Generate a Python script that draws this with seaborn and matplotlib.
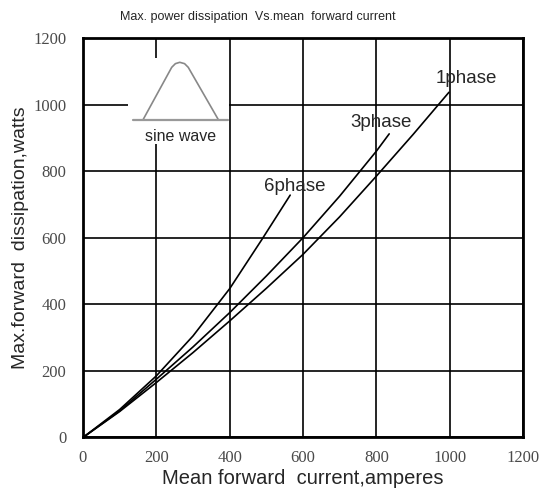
import pandas as pd
import matplotlib
matplotlib.use("Agg")
import matplotlib.pyplot as plt
import seaborn as sns
from matplotlib.patches import Rectangle

# curvas (corriente media A, potencia W)
x_1ph = [0, 100, 200, 300, 400, 500, 600, 700, 800, 900, 998]
y_1ph = [0, 78, 165, 255, 350, 448, 550, 663, 785, 910, 1037]
x_3ph = [0, 100, 200, 300, 400, 500, 600, 700, 800, 835]
y_3ph = [0, 80, 175, 272, 375, 485, 600, 725, 860, 912]
x_6ph = [0, 100, 200, 300, 400, 488, 565]
y_6ph = [0, 84, 185, 305, 447, 595, 728]

etiquetas = ["1phase", "3phase", "6phase"]
etiq_x = [1044, 812, 578]
etiq_y = [1078, 946, 754]

ticks = [0, 200, 400, 600, 800, 1000, 1200]

# dibujo de la onda seno del recuadro
onda_x = [164, 242, 252, 264, 277, 287, 369]
onda_y = [955, 1112, 1123, 1127, 1123, 1112, 955]

df = pd.concat([
    pd.DataFrame({"I": x_1ph, "P": y_1ph, "fase": "1phase"}),
    pd.DataFrame({"I": x_3ph, "P": y_3ph, "fase": "3phase"}),
    pd.DataFrame({"I": x_6ph, "P": y_6ph, "fase": "6phase"}),
])

sns.set_style("white")
plt.rcParams["font.family"] = ["Liberation Sans", "DejaVu Sans"]

fig = plt.figure(figsize=(5.42, 4.95), dpi=100)
ax = fig.add_axes([0.1531, 0.1162, 0.8119, 0.807])

sns.lineplot(data=df, x="I", y="P", hue="fase", estimator=None, sort=False,
             palette=["black"] * 3, linewidth=1.2, legend=False, ax=ax, zorder=3)

ax.set_xlim(0, 1200)
ax.set_ylim(0, 1200)
ax.set_xticks(ticks)
ax.set_yticks(ticks)
ax.grid(True, color="black", linewidth=1.2)
ax.set_axisbelow(True)
for s in ax.spines.values():
    s.set_color("black")
    s.set_linewidth(2)
ax.tick_params(length=0, labelcolor="#4a4a4a")
ax.tick_params(axis="y", pad=12)
ax.tick_params(axis="x", pad=9)
for lab in ax.get_xticklabels() + ax.get_yticklabels():
    lab.set_family("Liberation Serif")
    lab.set_fontsize(12)

# recuadro blanco con la onda
ax.add_patch(Rectangle((123, 883), 274, 258, facecolor="white", edgecolor="none", zorder=2))
ax.plot(onda_x, onda_y, color="#888888", lw=1.2, zorder=3)
ax.plot([136, 395], [955, 955], color="#999999", lw=1.6, zorder=3)
ax.text(265, 905, "sine wave", ha="center", va="center", fontsize=11.5, zorder=4)

for t, tx, ty in zip(etiquetas, etiq_x, etiq_y):
    ax.text(tx, ty, t, ha="center", va="center", fontsize=13.5, zorder=4)

ax.set_xlabel("Mean forward  current,amperes", fontsize=14.5, labelpad=2)
ax.set_ylabel("Max.forward  dissipation,watts", fontsize=14, labelpad=3)
fig.text(258 / 542, 1 - 17 / 495, "Max. power dissipation  Vs.mean  forward current",
         ha="center", va="center", fontsize=9)

fig.savefig("out.png", dpi=100)
